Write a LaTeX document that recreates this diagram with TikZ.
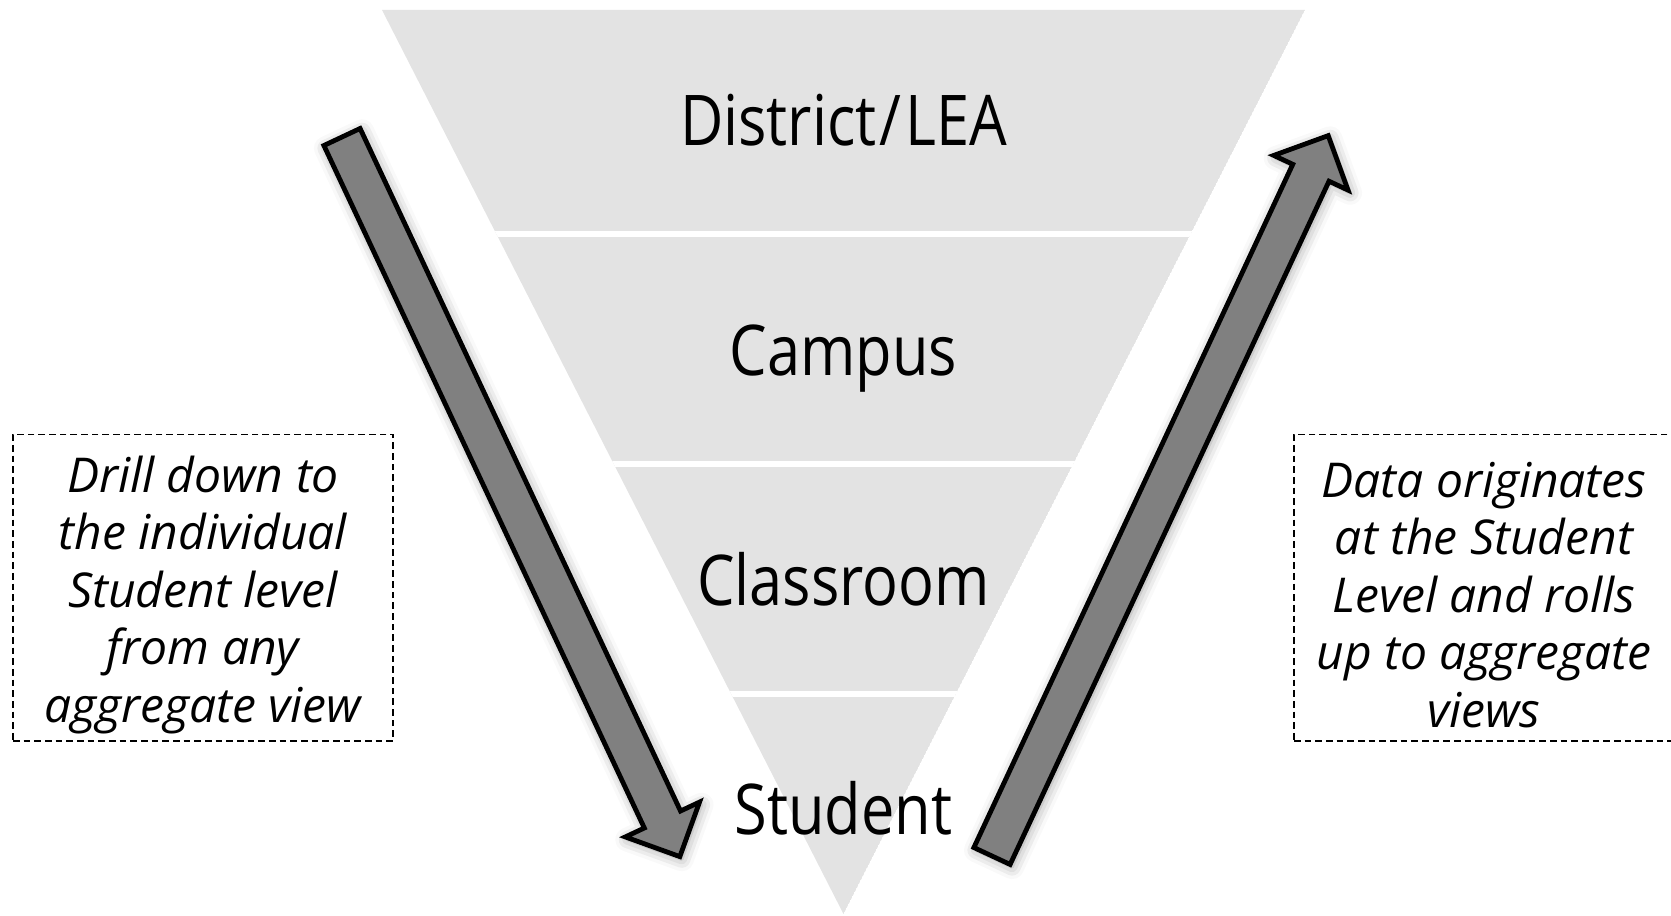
\documentclass[tikz,border=0pt]{standalone}
\usepackage{graphicx}
\usepackage{fontspec}
\setmainfont{Open Sans}
\usetikzlibrary{shadows.blur}

\definecolor{funnelgray}{RGB}{227,227,227}
\definecolor{arrowgray}{RGB}{128,128,128}

\newcommand{\lvl}[1]{\scalebox{0.85}[1]{#1}}

\tikzset{every picture/.style={line width=0.75pt}}
\tikzset{
	band/.style={fill=funnelgray},
	band gap/.style={draw=white, line width=4pt},
	level label/.style={font=\fontsize{52.5}{60}\selectfont, inner sep=0pt, anchor=base},
	block arrow/.style={draw=black, fill=arrowgray, line width=3.6pt, line join=miter,
		blur shadow={shadow xshift=1.5pt, shadow yshift=-2pt, shadow blur radius=9pt, shadow opacity=40}},
	note box/.style={draw, dash pattern=on 5pt off 3pt, line width=1pt,
		minimum width=285pt, minimum height=230pt, inner sep=0pt},
	note text/.style={inner sep=0pt, align=center,
		font=\itshape\fontsize{36}{43.2}\selectfont}}

\begin{document}
\begin{tikzpicture}[x=0.75pt,y=0.75pt,yscale=-1,xscale=1]
	\useasboundingbox (0,0) rectangle (1671,916);

	%Funnel [4 bands]
	\begin{scope}
		\clip (382,10) -- (1305,10) -- (843.5,914) -- cycle;
		\fill[band] (382,10) -- (1305,10) -- (843.5,914) -- cycle;
		\foreach \y in {234,464,694}
			\draw[band gap] (370,\y) -- (1320,\y);
	\end{scope}

	% Text Node
	\node[level label] (district) at (843.5,146) {\lvl{District\kern3pt/\kern3pt LEA}};
	% Text Node
	\node[level label] (campus) at (843.5,375) {\lvl{Campus}};
	% Text Node
	\node[level label] (classroom) at (843.5,605) {\lvl{Classroom}};
	% Text Node
	\node[level label] (student) at (843.5,834) {\lvl{Student}};

	%Down Arrow (drill down)
	\begin{scope}[shift={(342,137)},rotate=64.85]
		\draw[block arrow] (0,-20) -- (754,-20) -- (754,-41) -- (795,0) -- (754,41) -- (754,20) -- (0,20) -- cycle;
	\end{scope}
	%Up Arrow (roll up)
	\begin{scope}[shift={(992,856)},rotate=-64.98]
		\draw[block arrow] (0,-20) -- (754,-20) -- (754,-41) -- (795,0) -- (754,41) -- (754,20) -- (0,20) -- cycle;
	\end{scope}

	%Dashed boxes
	\node[note box] (drillbox) at (203,587.5) {};
	\node[note box] (rollbox) at (1484,587.5) {};
	% Text Node
	\node[note text] (drillnote) at ([yshift=5.5pt]drillbox.center) {Drill down to\\the individual\\Student level\\from any\\aggregate view};
	% Text Node
	\node[note text] (rollnote) at ([yshift=5.5pt]rollbox.center) {Data originates\\at the Student\\Level and rolls\\up to aggregate\\views};

\end{tikzpicture}
\end{document}
